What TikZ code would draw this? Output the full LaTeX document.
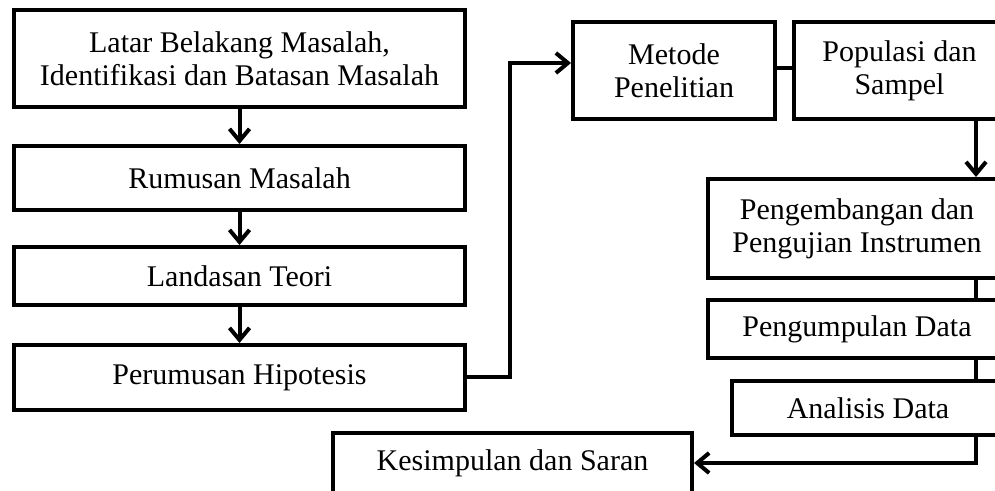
\documentclass[tikz,border=0pt]{standalone}
\usepackage{fontspec}
\setmainfont{Liberation Serif}
\usetikzlibrary{arrows.meta}
\begin{document}
\begin{tikzpicture}[x=0.5pt,y=-0.5pt,
  box/.style={draw, line width=2pt, align=center, inner sep=0pt,
    font=\fontsize{15}{16.5}\selectfont},
  link/.style={line width=2pt},
  arr/.style={line width=2pt, -{Straight Barb[length=6pt,width=10pt]}}]
\useasboundingbox (0,0) rectangle (995,491);
\clip (0,0) rectangle (995,491);
% left column
\node[box, minimum width=225.5pt, minimum height=48.5pt] (latar) at (239.5,58.5)
  {Latar Belakang Masalah,\\Identifikasi dan Batasan Masalah};
\node[box, minimum width=225.5pt, minimum height=32pt] (rumusan) at (239.5,178) {Rumusan Masalah};
\node[box, minimum width=225.5pt, minimum height=29pt] (landasan) at (239.5,276) {Landasan Teori};
\node[box, minimum width=225.5pt, minimum height=32.5pt] (hipotesis) at (239.5,377.5) {Perumusan Hipotesis};
% right part
\node[box, minimum width=101pt, minimum height=48.5pt] (metode) at (674,70.5) {Metode\\Penelitian};
\node[box, minimum width=105.5pt, minimum height=48.5pt] (populasi) at (899.5,70.5) {Populasi dan\\Sampel};
\node[box, minimum width=149pt, minimum height=49.5pt] (instrumen) at (857,228.5) {Pengembangan dan\\Pengujian Instrumen};
\node[box, minimum width=149pt, minimum height=29pt] (kumpul) at (857,329) {Pengumpulan Data};
\node[box, minimum width=136pt, minimum height=27pt] (analisis) at (868,408) {Analisis Data};
\node[box, minimum width=179.5pt, minimum height=30pt] (kesimpulan) at (512.5,463) {Kesimpulan dan Saran};
\coordinate (rx) at (976,0);
\coordinate (mx) at (510,63);
% connectors
\draw[arr] (latar) -- (rumusan);
\draw[arr] (rumusan) -- (landasan);
\draw[arr] (landasan) -- (hipotesis);
\draw[arr] (hipotesis.east) -| (mx) -- (metode.west |- mx);
\draw[link] (metode.east |- 0,68) -- (populasi.west |- 0,68);
\draw[arr] (populasi.south -| rx) -- (instrumen.north -| rx);
\draw[link] (instrumen.south -| rx) -- (kumpul.north -| rx);
\draw[link] (kumpul.south -| rx) -- (analisis.north -| rx);
\draw[arr] (analisis.south -| rx) |- (kesimpulan.east);
\end{tikzpicture}
\end{document}
